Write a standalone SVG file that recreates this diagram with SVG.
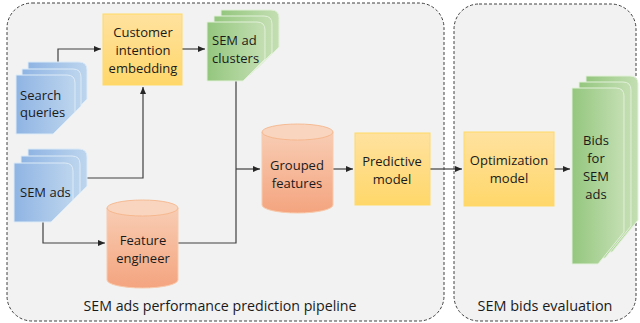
<svg xmlns="http://www.w3.org/2000/svg" width="640" height="323" viewBox="0 0 640 323">
<defs>
<linearGradient id="gBlue" x1="0" y1="0" x2="1" y2="0"><stop offset="0" stop-color="#8FB4E3"/><stop offset="1" stop-color="#BDD5EE"/></linearGradient>
<linearGradient id="gGreen" x1="0" y1="0" x2="1" y2="0"><stop offset="0" stop-color="#94C67E"/><stop offset="1" stop-color="#C4DFB3"/></linearGradient>
<linearGradient id="gOrange" x1="0" y1="0" x2="0" y2="1"><stop offset="0" stop-color="#F8CDB4"/><stop offset="1" stop-color="#F4A47F"/></linearGradient>
<linearGradient id="gYellow" x1="0" y1="0" x2="0" y2="1"><stop offset="0" stop-color="#FFE29F"/><stop offset="1" stop-color="#FFD76A"/></linearGradient>
<marker id="arr" markerWidth="8" markerHeight="8" refX="7" refY="4" orient="auto" markerUnits="userSpaceOnUse"><path d="M0,1 L7,4 L0,7 Z" fill="#262626"/></marker>
</defs>
<style>
.cont{fill:#F2F2F2;stroke:#404040;stroke-width:1;stroke-dasharray:3 2}
.blue{fill:url(#gBlue);stroke:#DDEBF7;stroke-width:1}
.green{fill:url(#gGreen);stroke:#E2F0D9;stroke-width:1}
.cyl{fill:url(#gOrange);stroke:#F8CBAD;stroke-width:1}
.cyltop{fill:#F9D5C0;stroke:#F4B183;stroke-width:0.8}
.yel{fill:url(#gYellow);stroke:#FFD966;stroke-width:1}
text{font-family:"Open Sans","Liberation Sans",sans-serif;font-size:13px;fill:#1a1a1a}
.c{text-anchor:middle}
.lbl{font-size:14.5px}
.conn path{fill:none;stroke:#404040;stroke-width:1.2}
</style>
<rect class="cont" x="7" y="3" width="437" height="318" rx="25"/>
<rect class="cont" x="454" y="4" width="182" height="317" rx="25"/>
<text class="c lbl" x="220" y="311" textLength="273" lengthAdjust="spacingAndGlyphs">SEM ads performance prediction pipeline</text>
<text class="c lbl" x="545" y="311" textLength="135" lengthAdjust="spacingAndGlyphs">SEM bids evaluation</text>

<g class="conn">
<path d="M58,62 V49 H101" marker-end="url(#arr)"/>
<path d="M182,49 H205" marker-end="url(#arr)"/>
<path d="M86,178 H143 V87" marker-end="url(#arr)"/>
<path d="M43,222 V243 H105" marker-end="url(#arr)"/>
<path d="M236,81 V243 H178"/>
<path d="M236,169 H260" marker-end="url(#arr)"/>
<path d="M333,169 H353" marker-end="url(#arr)"/>
<path d="M430,169 H462" marker-end="url(#arr)"/>
<path d="M554,169 H570" marker-end="url(#arr)"/>
</g>

<g id="search-queries">
<path class="blue" d="M28,62 H79 Q87,62 87,70 V99 L65,121 H28 Z"/>
<path class="blue" d="M22,69 H73 Q81,69 81,77 V106 L59,128 H22 Z"/>
<path class="blue" d="M16,75 H67 Q75,75 75,83 V112 L53,134 H16 Z"/>
<text x="20" y="100">Search</text>
<text x="20" y="117">queries</text>
</g>

<g id="sem-ads">
<path class="blue" d="M28,149 H79 Q87,149 87,157 V186 L65,208 H28 Z"/>
<path class="blue" d="M21,156 H72 Q80,156 80,164 V193 L58,215 H21 Z"/>
<path class="blue" d="M14,163 H65 Q73,163 73,171 V200 L51,222 H14 Z"/>
<text x="20" y="197">SEM ads</text>
</g>

<g id="customer-intention">
<rect class="yel" x="103" y="14" width="79" height="71"/>
<text class="c" x="143" y="37">Customer</text>
<text class="c" x="143" y="55">intention</text>
<text class="c" x="143" y="73">embedding</text>
</g>

<g id="sem-ad-clusters">
<path class="green" d="M221,10 H271 Q279,10 279,18 V47 L257,69 H221 Z"/>
<path class="green" d="M214,16 H264 Q272,16 272,24 V53 L250,75 H214 Z"/>
<path class="green" d="M207,22 H257 Q265,22 265,30 V59 L243,81 H207 Z"/>
<text x="212" y="45">SEM ad</text>
<text x="212" y="63">clusters</text>
</g>

<g id="feature-engineer">
<path class="cyl" d="M107,208 V280 A35.5,8 0 0 0 178,280 V208"/>
<ellipse class="cyltop" cx="142.5" cy="208" rx="35.5" ry="8"/>
<text class="c" x="143" y="245">Feature</text>
<text class="c" x="143" y="263">engineer</text>
</g>

<g id="grouped-features">
<path class="cyl" d="M262,132 V205 A35.5,8 0 0 0 333,205 V132"/>
<ellipse class="cyltop" cx="297.5" cy="132" rx="35.5" ry="8"/>
<text class="c" x="297" y="170">Grouped</text>
<text class="c" x="297" y="188">features</text>
</g>

<g id="predictive-model">
<rect class="yel" x="355" y="133" width="75" height="72"/>
<text class="c" x="392" y="166">Predictive</text>
<text class="c" x="392" y="184">model</text>
</g>

<g id="optimization-model">
<rect class="yel" x="464" y="132" width="90" height="74"/>
<text class="c" x="509" y="165">Optimization</text>
<text class="c" x="509" y="183">model</text>
</g>

<g id="bids">
<path class="green" d="M586,76 H630 Q638,76 638,84 V220 L612,252 H586 Z"/>
<path class="green" d="M579,82 H623 Q631,82 631,90 V226 L605,258 H579 Z"/>
<path class="green" d="M572,88 H616 Q624,88 624,96 V232 L598,264 H572 Z"/>
<text class="c" x="596" y="145">Bids</text>
<text class="c" x="596" y="163">for</text>
<text class="c" x="596" y="181">SEM</text>
<text class="c" x="596" y="199">ads</text>
</g>
</svg>
